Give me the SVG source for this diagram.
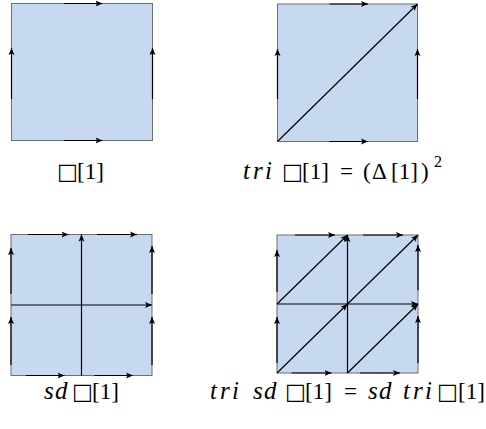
<svg xmlns="http://www.w3.org/2000/svg" width="486" height="429" viewBox="0 0 486 429">
<defs>
<marker id="ah" markerUnits="userSpaceOnUse" markerWidth="10" markerHeight="8" refX="7" refY="4" orient="auto">
<path d="M0,1 L7,4 L0,7 L1.6,4 z" fill="#000"/>
</marker>
</defs>
<g fill="#c6d9f0" stroke="#6e6e6e" stroke-width="1">
<g id="square1">
<rect x="11.5" y="3.5" width="141" height="137"/>
</g>
<g id="square2">
<rect x="277.5" y="4" width="140" height="137.5"/>
</g>
<g id="square3">
<rect x="11" y="234.5" width="141" height="141"/>
</g>
<g id="square4">
<rect x="277" y="235" width="141" height="138"/>
</g>
</g>
<g id="connectors" fill="none" stroke="#000" stroke-width="1.2" marker-end="url(#ah)">
<path d="M64,3.5 H102.5"/>
<path d="M64,140.5 H102.5"/>
<path d="M11.5,99 V48"/>
<path d="M152.5,99 V48"/>
<path d="M329.5,4 H368"/>
<path d="M329.5,141.5 H368"/>
<path d="M277.5,99 V49"/>
<path d="M417.5,99 V49"/>
<path d="M277.5,141.5 L417.5,4"/>
<path d="M28,234.5 H68.5"/>
<path d="M97,234.5 H137"/>
<path d="M26,375.5 H64.5"/>
<path d="M94.5,375.5 H133"/>
<path d="M11,294 V248"/>
<path d="M11,365 V317"/>
<path d="M152,294 V246"/>
<path d="M152,365 V317"/>
<path d="M11,305 H152"/>
<path d="M81.5,375.5 V234.5"/>
<path d="M295,235 H335"/>
<path d="M363,235 H403"/>
<path d="M291.5,373 H331.5"/>
<path d="M360,373 H400"/>
<path d="M277,292 V250"/>
<path d="M277,363 V317"/>
<path d="M418,290 V245"/>
<path d="M418,363 V316"/>
<path d="M277,304 H418"/>
<path d="M347.5,373 V235"/>
<path d="M277,304 L347.5,235"/>
<path d="M347.5,304 L418,235"/>
<path d="M277,373 L347.5,304"/>
<path d="M347.5,373 L418,304"/>
</g>
<g id="label1">
<text x="57" y="179" font-family="DejaVu Sans" font-size="22">□</text>
<text x="77" y="179" font-family="Liberation Serif" font-size="23">[1]</text>
</g>
<g id="label2">
<text x="243 253 265" y="179" font-family="Liberation Serif" font-style="italic" font-size="25">tri</text>
<text x="282" y="179" font-family="DejaVu Sans" font-size="22">□</text>
<text x="302" y="179" font-family="Liberation Serif" font-size="23">[1]</text>
<text x="340" y="179" font-family="Liberation Serif" font-size="23">=</text>
<text x="363" y="179" font-family="Liberation Serif" font-size="23">(</text>
<text x="372" y="179" font-family="Liberation Serif" font-size="23">Δ</text>
<text x="391" y="179" font-family="Liberation Serif" font-size="23">[1]</text>
<text x="421" y="179" font-family="Liberation Serif" font-size="23">)</text>
<text x="434" y="167" font-family="Liberation Serif" font-size="16">2</text>
</g>
<g id="label3">
<text x="44 55" y="399" font-family="Liberation Serif" font-style="italic" font-size="25">sd</text>
<text x="72" y="399" font-family="DejaVu Sans" font-size="22">□</text>
<text x="92" y="399" font-family="Liberation Serif" font-size="23">[1]</text>
</g>
<g id="label4">
<text x="210 220 232" y="399" font-family="Liberation Serif" font-style="italic" font-size="25">tri</text>
<text x="253 264" y="399" font-family="Liberation Serif" font-style="italic" font-size="25">sd</text>
<text x="285" y="399" font-family="DejaVu Sans" font-size="22">□</text>
<text x="305" y="399" font-family="Liberation Serif" font-size="23">[1]</text>
<text x="344" y="399" font-family="Liberation Serif" font-size="23">=</text>
<text x="368 379" y="399" font-family="Liberation Serif" font-style="italic" font-size="25">sd</text>
<text x="403 413 425" y="399" font-family="Liberation Serif" font-style="italic" font-size="25">tri</text>
<text x="437" y="399" font-family="DejaVu Sans" font-size="22">□</text>
<text x="458" y="399" font-family="Liberation Serif" font-size="23">[1]</text>
</g>
</svg>
